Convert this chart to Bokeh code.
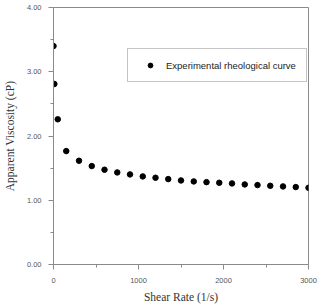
from bokeh.plotting import figure
from bokeh.models import Range1d, Legend, LegendItem, FixedTicker
from bokeh.embed import file_html
from bokeh.resources import INLINE

shear_rate = [0, 10, 50, 150, 300, 450, 600, 750, 900, 1050, 1200, 1350, 1500,
              1650, 1800, 1950, 2100, 2250, 2400, 2550, 2700, 2850, 3000]
viscosity = [3.40, 2.81, 2.26, 1.765, 1.615, 1.532, 1.475, 1.433, 1.402, 1.371,
             1.350, 1.329, 1.308, 1.293, 1.282, 1.272, 1.262, 1.246, 1.236,
             1.225, 1.215, 1.205, 1.194]
x_ticks = [0, 1000, 2000, 3000]
y_ticks = [0, 1, 2, 3, 4]
series_name = "Experimental rheological curve"

p = figure(width=327, height=305, output_backend="svg", toolbar_location=None,
           x_range=Range1d(0, 3000), y_range=Range1d(0, 4),
           min_border_left=53, min_border_right=19, min_border_top=7, min_border_bottom=39)
p.grid.visible = False
p.outline_line_color = "#8a8a8a"
p.outline_line_width = 1
p.background_fill_color = "white"
p.border_fill_color = "white"

r = p.scatter(shear_rate, viscosity, size=5.5, color="black")

for ax in (p.xaxis[0], p.yaxis[0]):
    ax.axis_line_color = "#8a8a8a"
    ax.major_tick_line_color = "#8a8a8a"
    ax.minor_tick_line_color = "#8a8a8a"
    ax.major_tick_in = 0
    ax.major_tick_out = 5
    ax.minor_tick_in = 0
    ax.minor_tick_out = 3
    ax.major_label_text_font = "Liberation Sans"
    ax.major_label_text_font_size = "7.5px"
    ax.major_label_text_color = "#555555"
    ax.axis_label_text_font = "Liberation Serif"
    ax.axis_label_text_font_size = "11.5px"
    ax.axis_label_text_font_style = "normal"
    ax.axis_label_text_color = "#333333"

p.xaxis.ticker = FixedTicker(ticks=x_ticks, minor_ticks=[500, 1500, 2500])
p.yaxis.ticker = FixedTicker(ticks=y_ticks, minor_ticks=[0.5, 1.5, 2.5, 3.5])
p.yaxis.major_label_overrides = {t: f"{t:.2f}" for t in y_ticks}
p.xaxis.major_label_overrides = {t: str(t) for t in x_ticks}
p.xaxis.axis_label = "Shear Rate (1/s)"
p.yaxis.axis_label = "Apparent Viscosity (cP)"
p.xaxis.major_label_standoff = 8
p.yaxis.major_label_standoff = 7
p.xaxis.axis_label_standoff = 5
p.yaxis.axis_label_standoff = 8

legend = Legend(items=[LegendItem(label=series_name, renderers=[r])],
                location=(74, 182), margin=0, padding=10,
                glyph_width=24, glyph_height=12, label_height=12,
                label_standoff=4, label_text_font="Liberation Sans",
                label_text_font_size="9.5px", label_text_color="#222222",
                border_line_color="#8a8a8a", border_line_width=1,
                background_fill_alpha=1)
p.add_layout(legend, "center")

open("out.html", "w").write(file_html(p, INLINE))
